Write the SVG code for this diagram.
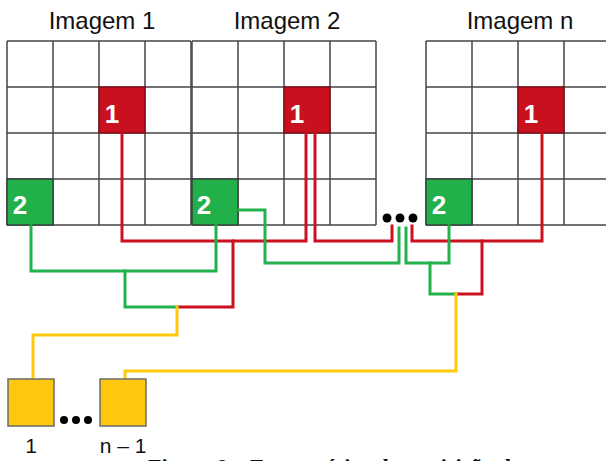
<svg xmlns="http://www.w3.org/2000/svg" width="606" height="461" viewBox="0 0 606 461">
  <style>
    .title { font-family: "Liberation Sans", Arial, sans-serif; font-size: 24px; fill: #111; text-anchor: middle; }
    .cellnum { font-family: "Liberation Sans", Arial, sans-serif; font-size: 26px; font-weight: bold; fill: #fff; text-anchor: middle; }
    .label { font-family: "Liberation Sans", Arial, sans-serif; font-size: 21px; fill: #111; text-anchor: middle; }
    .caption { font-family: "Liberation Serif", "Times New Roman", serif; font-size: 22px; font-weight: bold; fill: #111; }
    .grid line { stroke: #444; stroke-width: 1.5; }
    .red { fill: #c8101e; stroke: #7a0a12; stroke-width: 1.2; }
    .green { fill: #22b04b; stroke: #333; stroke-width: 1.2; }
    .box { fill: #ffc80e; stroke: #6b6b6b; stroke-width: 1.5; }
    .wire { fill: none; stroke-width: 3; stroke-linejoin: miter; stroke-linecap: square; }
    .wr { stroke: #cc1020; }
    .wg { stroke: #22b14c; }
    .wy { stroke: #ffc90e; }
    .dot { fill: #000; }
  </style>
  <defs>
    <!-- 4x4 image grid, 46px cells -->
    <g id="grid4">
      <rect x="0" y="0" width="184" height="184" fill="#fff"/>
      <g class="grid">
        <line x1="0" y1="0" x2="184" y2="0"/>
        <line x1="0" y1="46" x2="184" y2="46"/>
        <line x1="0" y1="92" x2="184" y2="92"/>
        <line x1="0" y1="138" x2="184" y2="138"/>
        <line x1="0" y1="184" x2="184" y2="184"/>
        <line x1="0" y1="0" x2="0" y2="184"/>
        <line x1="46" y1="0" x2="46" y2="184"/>
        <line x1="92" y1="0" x2="92" y2="184"/>
        <line x1="138" y1="0" x2="138" y2="184"/>
        <line x1="184" y1="0" x2="184" y2="184"/>
      </g>
    </g>
  </defs>

  <!-- Image 1 -->
  <g id="imagem1">
    <text class="title" x="102" y="29">Imagem 1</text>
    <use href="#grid4" x="7" y="41"/>
    <rect class="red" x="99" y="87" width="46" height="46"/>
    <text class="cellnum" x="112" y="123">1</text>
    <rect class="green" x="7" y="179" width="46" height="46"/>
    <text class="cellnum" x="20" y="214">2</text>
  </g>

  <!-- Image 2 -->
  <g id="imagem2">
    <text class="title" x="287" y="29">Imagem 2</text>
    <use href="#grid4" x="192" y="41"/>
    <rect class="red" x="284" y="87" width="46" height="46"/>
    <text class="cellnum" x="297" y="123">1</text>
    <rect class="green" x="192" y="179" width="46" height="46"/>
    <text class="cellnum" x="204" y="214">2</text>
  </g>

  <!-- Image n -->
  <g id="imagemn">
    <text class="title" x="520" y="29">Imagem n</text>
    <use href="#grid4" x="426" y="41"/>
    <rect class="red" x="518" y="87" width="46" height="46"/>
    <text class="cellnum" x="531" y="123">1</text>
    <rect class="green" x="426" y="179" width="46" height="46"/>
    <text class="cellnum" x="439" y="214">2</text>
  </g>

  <!-- ellipsis between image 2 and image n -->
  <g id="ellipsis-top">
    <circle class="dot" cx="387" cy="218" r="4.5"/>
    <circle class="dot" cx="400" cy="218" r="4.5"/>
    <circle class="dot" cx="413" cy="218" r="4.5"/>
  </g>

  <!-- connectors -->
  <g id="connectors">
    <g class="wire wr">
      <path d="M122,134 V241 H306 V134"/>
      <path d="M233,241 V307 H177"/>
      <path d="M315,134 V241 H392 V226"/>
      <path d="M412,226 V241 H542 V134"/>
      <path d="M482,241 V294 H456"/>
    </g>
    <g class="wire wg">
      <path d="M31,226 V271 H216 V226"/>
      <path d="M125,271 V307 H177"/>
      <path d="M239,210 H265 V263 H399 V228"/>
      <path d="M406,228 V263 H449 V226"/>
      <path d="M430,263 V294 H456"/>
    </g>
    <g class="wire wy">
      <path d="M177,307 V335 H33 V378"/>
      <path d="M456,294 V371 H125 V378"/>
    </g>
  </g>

  <!-- output accumulators -->
  <g id="saida1">
    <rect class="box" x="8" y="379" width="46" height="47"/>
    <text class="label" x="31" y="453">1</text>
  </g>
  <g id="ellipsis-bottom">
    <circle class="dot" cx="64" cy="420" r="4"/>
    <circle class="dot" cx="76" cy="420" r="4"/>
    <circle class="dot" cx="88" cy="420" r="4"/>
  </g>
  <g id="saidan1">
    <rect class="box" x="100" y="379" width="46" height="47"/>
    <text class="label" x="123" y="453">n – 1</text>
  </g>

  <!-- caption, running off the bottom edge -->
  <text class="caption" x="148" y="474">Figura 9 – Esquemático da aquisição de</text>
</svg>
